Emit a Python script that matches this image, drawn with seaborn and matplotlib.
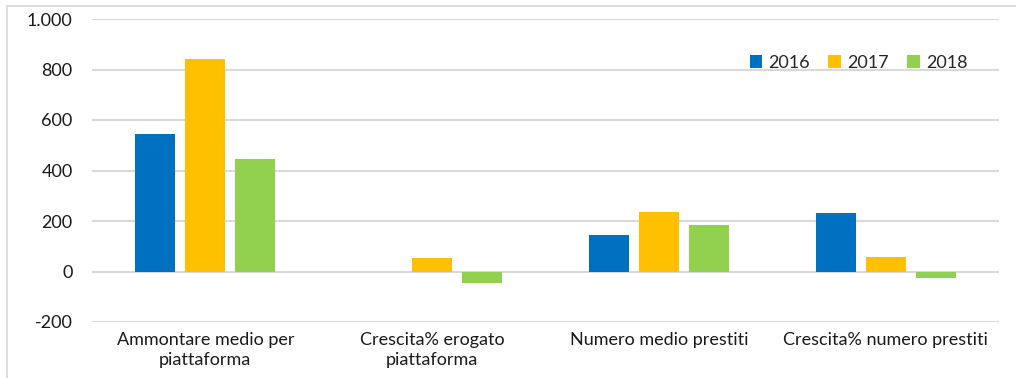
import matplotlib
matplotlib.use("Agg")
import matplotlib.pyplot as plt
import seaborn as sns
import pandas as pd
from matplotlib.lines import Line2D

categories = ["Ammontare medio per\npiattaforma", "Crescita% erogato\npiattaforma",
              "Numero medio prestiti", "Crescita% numero prestiti"]
years = ["2016", "2017", "2018"]
values_2016 = [544, 0, 143, 231]
values_2017 = [841, 52, 234, 57]
values_2018 = [445, -47, 183, -24]
yticks = [-200, 0, 200, 400, 600, 800, 1000]
ytick_labels = ["-200", "0", "200", "400", "600", "800", "1.000"]
colors = ["#0070C0", "#FFC000", "#92D050"]

rows = []
for yr, vals in zip(years, [values_2016, values_2017, values_2018]):
    for c, v in zip(categories, vals):
        rows.append({"cat": c, "year": yr, "value": v})
df = pd.DataFrame(rows)

sns.set_style("white")
plt.rcParams["font.family"] = ["Lato", "DejaVu Sans"]

fig = plt.figure(figsize=(10.16, 3.78), dpi=100)
ax = fig.add_axes([92/1016, 1-322/378, (999-92)/1016, (322-19)/378])

sns.barplot(data=df, x="cat", y="value", hue="year", hue_order=years,
            palette=colors, width=0.6615, gap=0.2, ax=ax, errorbar=None,
            saturation=1, zorder=3, linewidth=0)

ax.set_ylim(-200, 1000)
ax.set_xlim(-0.5, 3.5)
ax.grid(axis="y", color="#d9d9d9", linewidth=1.5, zorder=0)
ax.set_axisbelow(True)
for s in ax.spines.values():
    s.set_visible(False)
ax.set_xlabel("")
ax.set_ylabel("")
ax.tick_params(axis="both", length=0, labelsize=13, colors="#1a1a1a")
ax.tick_params(axis="y", pad=14)
ax.tick_params(axis="x", pad=7)

ax.legend(loc="upper right", ncol=3, frameon=False, fontsize=13,
          bbox_to_anchor=(0.983, 0.935), handlelength=0.7, handleheight=0.7,
          handletextpad=0.35, columnspacing=1.0)

ax.set_yticks(yticks, ytick_labels)
ax.set_xticks(range(len(categories)), categories, ha="center",
              multialignment="center", linespacing=1.3)

# outer chart border (left and top)
fig.add_artist(Line2D([7/1016, 7/1016], [0, 1-6/378], color="#d9d9d9", lw=1.2,
                      transform=fig.transFigure))
fig.add_artist(Line2D([7/1016, 1], [1-6/378, 1-6/378], color="#d9d9d9", lw=1.2,
                      transform=fig.transFigure))

fig.savefig("out.png", dpi=100)
